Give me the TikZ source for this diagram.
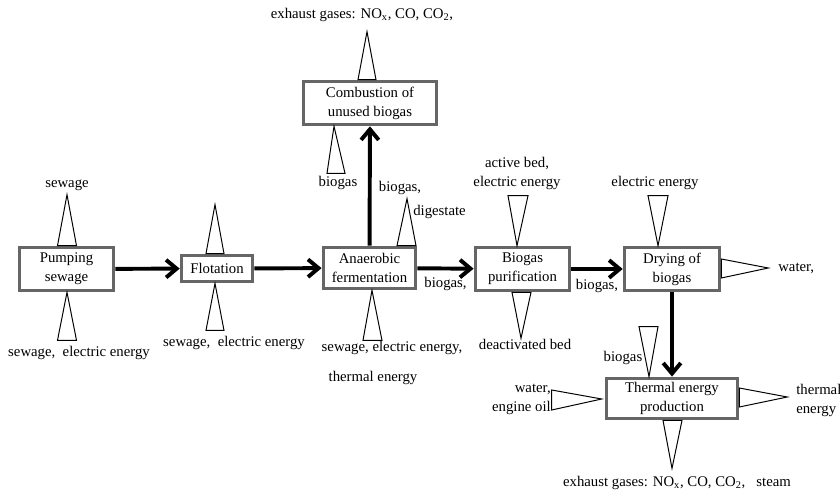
\documentclass[tikz,border=0pt]{standalone}
\usepackage{fontspec}
\setmainfont{Liberation Serif}
\usetikzlibrary{arrows.meta,calc}

\tikzset{
  box/.style={draw=black!60, line width=2.4pt, fill=white, align=center, inner sep=1pt,
    font=\fontsize{10.5}{13.5}\selectfont},
  flow/.style={line width=2.8pt, -{Straight Barb[length=7.5pt,width=12.5pt]}},
  tri/.style={line width=0.7pt, line join=miter},
  lbl/.style={inner sep=0pt, align=center, font=\fontsize{10.5}{13.5}\selectfont},
}
% anchor, apex offset, base centre offset, half base
\newcommand{\flowtri}[4]{%
  \draw[tri] ($#1+#3+#4$) -- ($#1+#2$) -- ($#1+#3-#4$) -- cycle;}

\begin{document}
\begin{tikzpicture}[x=0.025cm, y=-0.025cm]
  \useasboundingbox (0,0) rectangle (840,491);

  % process boxes
  \node[box, minimum width=2.36cm, minimum height=1.08cm] (pump) at (66.5,269) {Pumping\\sewage};
  \node[box, minimum width=1.78cm, minimum height=0.66cm] (flot) at (217,268.5) {Flotation};
  \node[box, minimum width=2.31cm, minimum height=1.03cm] (anaer) at (369.5,268) {Anaerobic\\fermentation};
  \node[box, minimum width=3.33cm, minimum height=1.08cm] (comb) at (370,103) {Combustion of\\unused biogas};
  \node[box, minimum width=2.36cm, minimum height=1.08cm] (purif) at (522.5,269) {Biogas\\purification};
  \node[box, minimum width=2.38cm, minimum height=1.08cm] (dry) at (672,269) {Drying of\\biogas};
  \node[box, minimum width=3.28cm, minimum height=1.01cm] (therm) at (672,398.5) {Thermal energy\\production};

  % main flow
  \draw[flow] (pump) -- (flot);
  \draw[flow] (flot) -- (anaer);
  \draw[flow] (anaer) -- (comb);
  \draw[flow] (anaer) -- node[lbl, below=5pt] (bg1) {biogas,} (purif);
  \draw[flow] (purif) -- node[lbl, below=6pt] (bg2) {biogas,} (dry);
  \draw[flow] (dry) -- (therm);

  % inputs and outputs
  \flowtri{(pump.north)}{(0.5,-51)}{(0.5,0)}{(9.5,0)}
  \flowtri{(pump.south)}{(0.5,0)}{(0.5,48)}{(9.5,0)}
  \flowtri{(flot.north)}{(-2,-49)}{(-2,0)}{(9,0)}
  \flowtri{(flot.south)}{(-2,0)}{(-2,47)}{(9,0)}
  \flowtri{(comb.north)}{(-3,-48)}{(-3,0)}{(9,0)}
  \flowtri{(comb.south)}{(-36,0)}{(-34,47)}{(9,0)}
  \flowtri{(anaer.north)}{(37.5,-47)}{(37,0)}{(9.5,0)}
  \flowtri{(anaer.south)}{(2.5,0)}{(3,50)}{(9.5,0)}
  \flowtri{(purif.north)}{(-5.5,0)}{(-4.5,-50)}{(10,0)}
  \flowtri{(purif.south)}{(-1.5,46)}{(-1,0)}{(9.5,0)}
  \flowtri{(dry.north)}{(-14,0)}{(-14,-50)}{(10,0)}
  \flowtri{(dry.east)}{(47,-1)}{(0,-0.5)}{(0,9.5)}
  \flowtri{(therm.north)}{(-23,0)}{(-23.5,-50)}{(9.5,0)}
  \flowtri{(therm.west)}{(-3,0.5)}{(-53,1.5)}{(0,10)}
  \flowtri{(therm.east)}{(48,-1.5)}{(0,-1)}{(0,9.5)}
  \flowtri{(therm.south)}{(0,48)}{(0.5,0)}{(9.5,0)}

  % labels
  \node[lbl] (exhtop) at (362,15) {exhaust gases: NO\textsubscript{x}, CO, CO\textsubscript{2},};
  \node[lbl] (swin) at (67,185) {sewage};
  \node[lbl] (swout1) at (79,353) {sewage,\ \ electric energy};
  \node[lbl] (swout2) at (234,343) {sewage,\ \ electric energy};
  \node[lbl] (bgcomb) at (338,183) {biogas};
  \node[lbl] (bgdig1) at (400,188) {biogas,};
  \node[lbl, anchor=west] (bgdig2) at (413,212) {digestate};
  \node[lbl] (anin1) at (392,348) {sewage, electric energy,};
  \node[lbl] (anin2) at (373,378) {thermal energy};
  \node[lbl] (bedin) at (517,173) {active bed,\\electric energy};
  \node[lbl] (bedout) at (525,344) {deactivated bed};
  \node[lbl] (elin) at (655,183) {electric energy};
  \node[lbl, anchor=west] (wout) at (778,268) {water,};
  \node[lbl] (bgtherm) at (623,358) {biogas};
  \node[lbl, align=right, anchor=east] (oilin) at (551,399) {water,\\engine oil};
  \node[lbl, align=left, anchor=west] (heatout) at (796,400) {thermal\\energy};
  \node[lbl] (exhbot) at (677,483) {exhaust gases: NO\textsubscript{x}, CO, CO\textsubscript{2},\ \ \ steam};
\end{tikzpicture}
\end{document}
